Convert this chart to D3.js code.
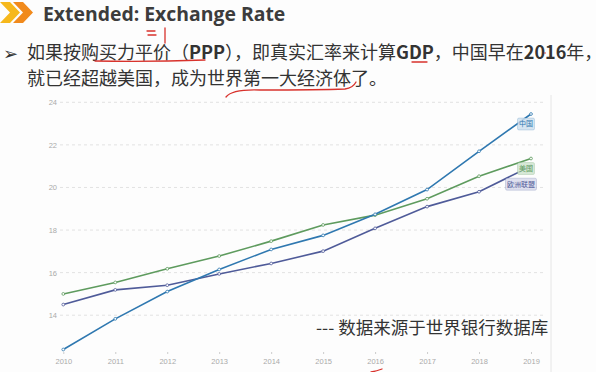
<!DOCTYPE html>
<html>
<head>
<meta charset="utf-8">
<script src="https://cdn.jsdelivr.net/npm/d3@7"></script>
<style>
  body { margin: 0; background: #fdfdfd; }
  svg { display: block; }
</style>
</head>
<body>
<div id="chart"></div>
<script>
"use strict";

// data (GDP, PPP, trillion USD)
const years = [2010, 2011, 2012, 2013, 2014, 2015, 2016, 2017, 2018, 2019];
const china = [12.39, 13.83, 15.11, 16.15, 17.09, 17.75, 18.74, 19.9, 21.7, 23.45];
const usa   = [15.0, 15.54, 16.18, 16.78, 17.48, 18.24, 18.7, 19.47, 20.53, 21.36];
const eu    = [14.5, 15.19, 15.41, 15.94, 16.43, 17.01, 18.08, 19.1, 19.8, 21.0];
const seriesNames = ["中国", "美国", "欧洲联盟"];
const yTicks = [14, 16, 18, 20, 22, 24];

const W = 596, H = 372;
const svg = d3.select("#chart").append("svg")
    .attr("width", W).attr("height", H);

svg.append("rect").attr("width", W).attr("height", H).attr("fill", "#fdfdfd");

// header chevrons
const chev = (x0, c) => svg.append("polygon")
    .attr("points", `${x0},2 ${x0 + 10},2 ${x0 + 20},12.5 ${x0 + 10},23 ${x0},23 ${x0 + 10},12.5`)
    .attr("fill", c);
chev(0, "#f6b81c");
chev(13, "#f18a1c");

svg.append("text")
    .attr("x", 43).attr("y", 20.5)
    .attr("font-family", "'Open Sans', sans-serif")
    .attr("font-weight", 700)
    .attr("font-size", 19.4)
    .attr("fill", "#3c3c3c")
    .text("Extended: Exchange Rate");

// bullet text
svg.append("text")
    .attr("x", 3).attr("y", 60)
    .attr("font-family", "'DejaVu Sans', sans-serif")
    .attr("font-size", 18)
    .attr("fill", "#333")
    .text("➢");

const cjk = "'Noto Sans CJK SC', sans-serif";
const line1 = svg.append("text")
    .attr("x", 27).attr("y", 59)
    .attr("font-family", cjk).attr("font-size", 18).attr("fill", "#333");
[["如果按购买力平价（", 400], ["PPP", 700], ["），即真实汇率来计算", 400], ["GDP", 700],
 ["，中国早在", 400], ["2016", 700], ["年，", 400]].forEach(([t, w]) => {
    line1.append("tspan").attr("font-weight", w).text(t);
});
svg.append("text")
    .attr("x", 27).attr("y", 85)
    .attr("font-family", cjk).attr("font-size", 18).attr("fill", "#333")
    .text("就已经超越美国，成为世界第一大经济体了。");

// chart
const x = d3.scalePoint().domain(years).range([63.3, 531]);
const y = d3.scaleLinear().domain([12, 24]).range([357.8, 102.3]);

svg.append("line")
    .attr("x1", 551).attr("x2", 551).attr("y1", 95).attr("y2", H)
    .attr("stroke", "#e6e6e6");

const grid = svg.append("g");
grid.selectAll("line").data(yTicks).join("line")
    .attr("x1", 60).attr("x2", 543)
    .attr("y1", d => y(d)).attr("y2", d => y(d))
    .attr("stroke", "#e2e2e2").attr("stroke-dasharray", "3,3");

const yAxis = svg.append("g")
    .attr("transform", "translate(57,0)")
    .call(d3.axisLeft(y).tickValues(yTicks).tickSize(0).tickPadding(0));
yAxis.select(".domain").remove();
yAxis.selectAll("text")
    .attr("font-family", "'Liberation Sans', sans-serif")
    .attr("font-size", 7.5).attr("fill", "#aaa");

const xAxis = svg.append("g")
    .attr("transform", "translate(0,352)")
    .call(d3.axisBottom(x).tickSize(2).tickPadding(5).tickFormat(d3.format("d")));
xAxis.select(".domain").remove();
xAxis.selectAll(".tick line").attr("stroke", "#ccc");
xAxis.selectAll("text")
    .attr("font-family", "'Liberation Sans', sans-serif")
    .attr("font-size", 7.5).attr("fill", "#aaa");

const series = [
    { name: seriesNames[1], values: usa, color: "#5e9b5e", fill: "#cfe4cf", dy: 10, dx: -5 },
    { name: seriesNames[2], values: eu, color: "#4f5b99", fill: "#d9dbec", dy: 18, dx: -10 },
    { name: seriesNames[0], values: china, color: "#2f78b0", fill: "#cfe0ef", dy: 10, dx: -5 }
];

const line = d3.line().x((d, i) => x(years[i])).y(d => y(d));

series.forEach(s => {
    svg.append("path")
        .datum(s.values)
        .attr("d", line)
        .attr("fill", "none")
        .attr("stroke", s.color)
        .attr("stroke-width", 1.6);
    svg.append("g").selectAll("circle").data(s.values).join("circle")
        .attr("cx", (d, i) => x(years[i])).attr("cy", d => y(d))
        .attr("r", 1.4)
        .attr("fill", "#fff").attr("stroke", s.color).attr("stroke-width", 0.8);
});

// end labels
series.forEach(s => {
    const last = s.values[s.values.length - 1];
    const cx = x(2019) + s.dx, cy = y(last) + s.dy;
    const g = svg.append("g").attr("transform", `translate(${cx},${cy})`);
    g.append("text")
        .attr("text-anchor", "middle").attr("dy", "0.35em")
        .attr("font-family", cjk).attr("font-size", 7)
        .attr("fill", s.color)
        .text(s.name);
    const bw = s.name.length * 7 + 3;
    g.insert("rect", "text")
        .attr("x", -bw / 2).attr("y", -6).attr("width", bw).attr("height", 12)
        .attr("rx", 1.5)
        .attr("fill", s.fill).attr("fill-opacity", 0.85)
        .attr("stroke", s.color).attr("stroke-opacity", 0.35).attr("stroke-width", 0.6);
});

// source note
svg.append("text")
    .attr("x", 316).attr("y", 334)
    .attr("font-family", cjk).attr("font-size", 17.5).attr("fill", "#333")
    .text("--- 数据来源于世界银行数据库");

// red hand-drawn marks
const red = "#d8322c";
const marks = [
    "M147,31 L155,31", "M148,35 L156,35", "M165,28 L165,43",
    "M95,61 Q150,62 205,60",
    "M412,62 L427,62",
    "M226,97 Q232,89 260,90 Q320,90 345,89 Q353,88 356,82",
    "M371,372 Q377,371 382,369"
];
svg.append("g").selectAll("path").data(marks).join("path")
    .attr("d", d => d)
    .attr("fill", "none").attr("stroke", red)
    .attr("stroke-width", 1.3).attr("stroke-linecap", "round");
svg.append("circle").attr("cx", 545).attr("cy", 53).attr("r", 0.8).attr("fill", red);
</script>
</body>
</html>
